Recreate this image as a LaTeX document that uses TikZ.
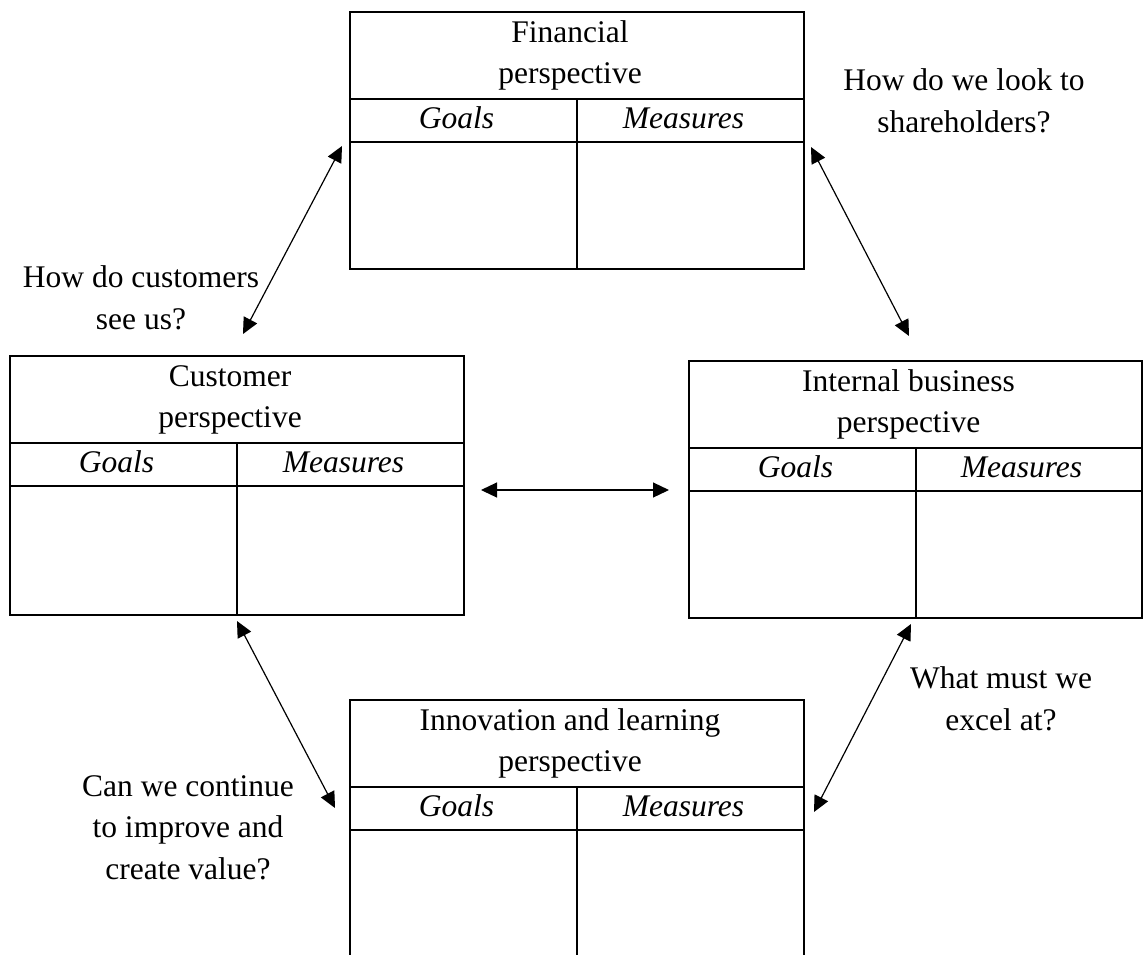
\documentclass[tikz,border=0pt]{standalone}
\usepackage{fontspec}
\setmainfont{Liberation Serif}
\usetikzlibrary{arrows.meta}

\tikzset{
  bscframe/.style={draw, line width=2pt, rectangle, inner sep=0pt, outer sep=0pt, anchor=north west},
  rule/.style={line width=2pt},
  txt/.style={inner sep=0pt, anchor=base, font=\fontsize{31.5}{41.5}\selectfont},
  hdr/.style={txt},
  col/.style={txt, font=\fontsize{31.5}{41.5}\selectfont\itshape},
  question/.style={txt, align=center},
  link/.style={line width=1.2pt,
    {Triangle[length=16pt,width=15pt]}-{Triangle[length=16pt,width=15pt]}},
}

% #1 name, #2 left, #3 top, #4 width, #5 height, #6/#7 heading lines
\newcommand\bscbox[7]{%
  \node[bscframe, minimum width=#4pt, minimum height=#5pt] (#1) at (#2,#3) {};
  \draw[rule] ([yshift=-87pt]#1.north west) -- ([yshift=-87pt]#1.north east);
  \draw[rule] ([yshift=-130pt]#1.north west) -- ([yshift=-130pt]#1.north east);
  \draw[rule] ([yshift=-87pt]#1.north) -- (#1.south);
  \node[hdr] (#1-t1) at ([xshift=-7pt,yshift=-30pt]#1.north) {#6};
  \node[hdr] (#1-t2) at ([xshift=-7pt,yshift=-71pt]#1.north) {#7};
  \node[col] (#1-g) at ([xshift=106.5pt,yshift=-116pt]#1.north west) {Goals};
  \node[col] (#1-m) at ([xshift=-120.5pt,yshift=-116pt]#1.north east) {Measures};
}

\begin{document}
\begin{tikzpicture}[x=1pt, y=-1pt]
  \useasboundingbox (0,0) rectangle (1144,954);
  \clip (0,0) rectangle (1144,954);

  % the four perspectives
  \bscbox{fin}{350}{12}{454}{257}{Financial}{perspective}
  \bscbox{cus}{10}{356}{454}{259}{Customer}{perspective}
  \bscbox{int}{689}{361}{453}{257}{Internal business}{perspective}
  \bscbox{inn}{350}{700}{454}{320}{Innovation and learning}{perspective}

  % questions (placed by the baseline of their last line)
  \node[question] (q-cus) at (141,329) {How do customers\\see us?};
  \node[question] (q-fin) at (964,132) {How do we look to\\shareholders?};
  \node[question] (q-int) at (1001,730) {What must we\\excel at?};
  \node[question] (q-inn) at (188,879) {Can we continue\\to improve and\\create value?};

  % link end points
  \coordinate (fin-l) at (342,146);
  \coordinate (fin-r) at (811,147);
  \coordinate (cus-t) at (243,334);
  \coordinate (cus-r) at (481,490);
  \coordinate (cus-b) at (237,621);
  \coordinate (int-t) at (909,336);
  \coordinate (int-l) at (669,490);
  \coordinate (int-b) at (911,624);
  \coordinate (inn-l) at (335,808);
  \coordinate (inn-r) at (814,812);

  % links
  \draw[link] (cus-t) -- (fin-l);
  \draw[link] (fin-r) -- (int-t);
  \draw[link] (cus-r) -- (int-l);
  \draw[link] (cus-b) -- (inn-l);
  \draw[link] (int-b) -- (inn-r);
\end{tikzpicture}
\end{document}
